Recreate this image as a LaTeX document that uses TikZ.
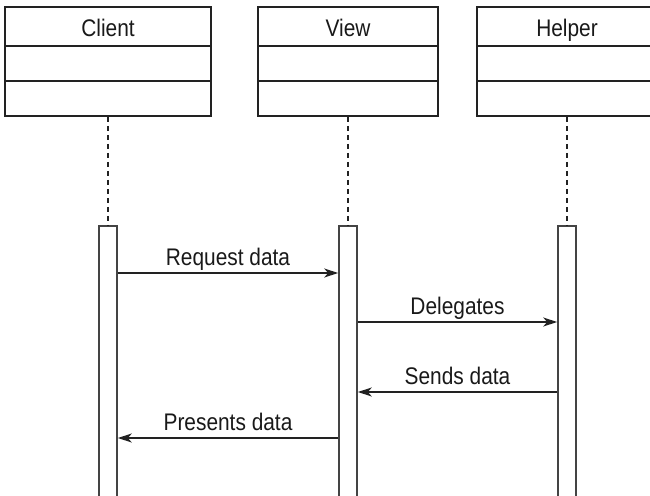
\documentclass[tikz,border=0pt]{standalone}
\usepackage{fontspec}
\setmainfont{Liberation Sans}[FakeStretch=0.87]
\usetikzlibrary{arrows.meta}
\definecolor{boxline}{HTML}{222222}
\definecolor{barline}{HTML}{444444}
\tikzset{
  classbox/.style={draw=boxline, line width=1.5pt, rectangle, inner sep=0pt, minimum width=#1, minimum height=109pt},
  divider/.style={draw=boxline, line width=1.5pt},
  lifeline/.style={draw=boxline, line width=1.1pt, dash pattern=on 5pt off 4pt},
  actbar/.style={draw=barline, line width=1.6pt, rectangle, inner sep=0pt, minimum width=18pt, minimum height=300pt, anchor=north},
  msg/.style={draw=boxline, line width=1.3pt, -{Stealth[length=14pt, width=9pt, inset=4pt]}},
  lbl/.style={font=\fontsize{24}{28}\selectfont, text=black!90, inner sep=0pt, anchor=base},
  msglbl/.style={font=\fontsize{24}{28}\selectfont, text=black!90, inner sep=0pt, anchor=base, yshift=8pt}
}
\begin{document}
\begin{tikzpicture}[x=1pt, y=-1pt]
\useasboundingbox (0,0) rectangle (650,495);
\clip (0,0) rectangle (650,495);
% class boxes
\node[classbox=206pt] (client) at (108,61.5) {};
\node[classbox=180pt] (view) at (348,61.5) {};
\node[classbox=180pt] (helper) at (567,61.5) {};
\foreach \b in {client,view,helper}{
  \draw[divider] (\b.west |- 0,46) -- (\b.east |- 0,46);
  \draw[divider] (\b.west |- 0,81) -- (\b.east |- 0,81);
}
\node[lbl] (clientlbl) at (108,37) {Client};
\node[lbl] (viewlbl) at (348,37) {View};
\node[lbl] (helperlbl) at (567,37) {Helper};
% activation bars
\node[actbar] (clientbar) at (108,225) {};
\node[actbar] (viewbar) at (348,225) {};
\node[actbar] (helperbar) at (567,225) {};
% lifelines
\draw[lifeline] (client.south) -- (clientbar.north);
\draw[lifeline] (view.south) -- (viewbar.north);
\draw[lifeline] (helper.south) -- (helperbar.north);
% messages
\coordinate (m1a) at (clientbar.east |- 0,273);
\coordinate (m1b) at (viewbar.west |- 0,273);
\draw[msg] (m1a) -- (m1b) node[msglbl, pos=0.5] (m1lbl) {Request data};
\coordinate (m2a) at (viewbar.east |- 0,322);
\coordinate (m2b) at (helperbar.west |- 0,322);
\draw[msg] (m2a) -- (m2b) node[msglbl, pos=0.5] (m2lbl) {Delegates};
\coordinate (m3a) at (helperbar.west |- 0,392);
\coordinate (m3b) at (viewbar.east |- 0,392);
\draw[msg] (m3a) -- (m3b) node[msglbl, pos=0.5] (m3lbl) {Sends data};
\coordinate (m4a) at (viewbar.west |- 0,438);
\coordinate (m4b) at (clientbar.east |- 0,438);
\draw[msg] (m4a) -- (m4b) node[msglbl, pos=0.5] (m4lbl) {Presents data};
\end{tikzpicture}
\end{document}
